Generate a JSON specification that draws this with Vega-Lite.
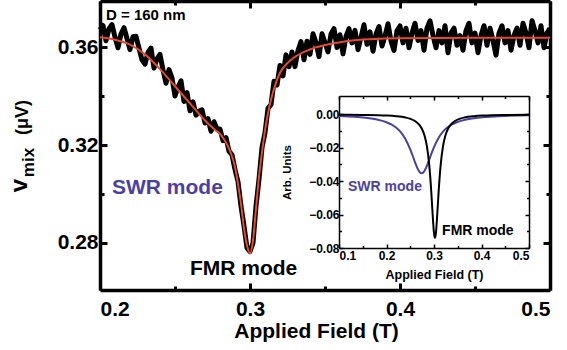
{
  "$schema": "https://vega.github.io/schema/vega-lite/v6.json",
  "width": 450,
  "height": 289,
  "autosize": "none",
  "padding": {"left": 100, "top": 1, "right": 17, "bottom": 60},
  "background": "white",
  "config": {
    "font": "Liberation Sans",
    "view": {"stroke": null},
    "axis": {"grid": false, "labelColor": "black", "tickColor": "black", "domainColor": "black", "titleColor": "black", "labelFontWeight": "bold", "titleFontWeight": "bold", "zindex": 1}
  },
  "datasets": {
    "noisy": [
      {"x":0.200,"y":0.3670},{"x":0.202,"y":0.3688},{"x":0.204,"y":0.3626},{"x":0.206,"y":0.3674},{"x":0.208,"y":0.3692},{"x":0.210,"y":0.3640},{"x":0.212,"y":0.3597},{"x":0.214,"y":0.3653},{"x":0.216,"y":0.3679},{"x":0.218,"y":0.3635},
      {"x":0.220,"y":0.3590},{"x":0.222,"y":0.3642},{"x":0.224,"y":0.3644},{"x":0.226,"y":0.3596},{"x":0.228,"y":0.3548},{"x":0.230,"y":0.3530},{"x":0.232,"y":0.3578},{"x":0.234,"y":0.3596},{"x":0.236,"y":0.3514},{"x":0.238,"y":0.3552},
      {"x":0.240,"y":0.3570},{"x":0.242,"y":0.3506},{"x":0.244,"y":0.3452},{"x":0.246,"y":0.3508},{"x":0.248,"y":0.3474},{"x":0.250,"y":0.3400},{"x":0.252,"y":0.3436},{"x":0.254,"y":0.3462},{"x":0.256,"y":0.3378},{"x":0.258,"y":0.3414},
      {"x":0.260,"y":0.3340},{"x":0.262,"y":0.3376},{"x":0.264,"y":0.3322},{"x":0.266,"y":0.3338},{"x":0.268,"y":0.3344},{"x":0.270,"y":0.3290},{"x":0.272,"y":0.3308},{"x":0.274,"y":0.3256},{"x":0.276,"y":0.3295},{"x":0.278,"y":0.3265},
      {"x":0.280,"y":0.3265},{"x":0.282,"y":0.3218},{"x":0.284,"y":0.3230},{"x":0.286,"y":0.3175},{"x":0.288,"y":0.3160},{"x":0.290,"y":0.3100},{"x":0.292,"y":0.3050},{"x":0.294,"y":0.2950},{"x":0.296,"y":0.2870},{"x":0.298,"y":0.2780},
      {"x":0.300,"y":0.2765},{"x":0.302,"y":0.2800},{"x":0.304,"y":0.2950},{"x":0.306,"y":0.3060},{"x":0.308,"y":0.3190},{"x":0.310,"y":0.3250},{"x":0.312,"y":0.3350},{"x":0.314,"y":0.3365},{"x":0.316,"y":0.3460},{"x":0.318,"y":0.3445},
      {"x":0.320,"y":0.3525},{"x":0.322,"y":0.3482},{"x":0.324,"y":0.3568},{"x":0.326,"y":0.3520},{"x":0.328,"y":0.3580},{"x":0.330,"y":0.3520},{"x":0.332,"y":0.3586},{"x":0.334,"y":0.3622},{"x":0.336,"y":0.3548},{"x":0.338,"y":0.3624},
      {"x":0.340,"y":0.3570},{"x":0.342,"y":0.3654},{"x":0.344,"y":0.3617},{"x":0.346,"y":0.3561},{"x":0.348,"y":0.3654},{"x":0.350,"y":0.3618},{"x":0.352,"y":0.3580},{"x":0.354,"y":0.3653},{"x":0.356,"y":0.3675},{"x":0.358,"y":0.3598},
      {"x":0.360,"y":0.3650},{"x":0.362,"y":0.3572},{"x":0.364,"y":0.3643},{"x":0.366,"y":0.3675},{"x":0.368,"y":0.3617},{"x":0.370,"y":0.3668},{"x":0.372,"y":0.3589},{"x":0.374,"y":0.3640},{"x":0.376,"y":0.3691},{"x":0.378,"y":0.3611},
      {"x":0.380,"y":0.3662},{"x":0.382,"y":0.3583},{"x":0.384,"y":0.3653},{"x":0.386,"y":0.3684},{"x":0.388,"y":0.3604},{"x":0.390,"y":0.3645},{"x":0.392,"y":0.3695},{"x":0.394,"y":0.3625},{"x":0.396,"y":0.3586},{"x":0.398,"y":0.3666},
      {"x":0.400,"y":0.3686},{"x":0.402,"y":0.3617},{"x":0.404,"y":0.3677},{"x":0.406,"y":0.3597},{"x":0.408,"y":0.3657},{"x":0.410,"y":0.3697},{"x":0.412,"y":0.3627},{"x":0.414,"y":0.3667},{"x":0.416,"y":0.3587},{"x":0.418,"y":0.3677},
      {"x":0.420,"y":0.3707},{"x":0.422,"y":0.3647},{"x":0.424,"y":0.3597},{"x":0.426,"y":0.3667},{"x":0.428,"y":0.3617},{"x":0.430,"y":0.3687},{"x":0.432,"y":0.3577},{"x":0.434,"y":0.3657},{"x":0.436,"y":0.3677},{"x":0.438,"y":0.3607},
      {"x":0.440,"y":0.3647},{"x":0.442,"y":0.3587},{"x":0.444,"y":0.3667},{"x":0.446,"y":0.3697},{"x":0.448,"y":0.3617},{"x":0.450,"y":0.3657},{"x":0.452,"y":0.3577},{"x":0.454,"y":0.3647},{"x":0.456,"y":0.3687},{"x":0.458,"y":0.3607},
      {"x":0.460,"y":0.3677},{"x":0.462,"y":0.3627},{"x":0.464,"y":0.3567},{"x":0.466,"y":0.3657},{"x":0.468,"y":0.3687},{"x":0.470,"y":0.3617},{"x":0.472,"y":0.3667},{"x":0.474,"y":0.3587},{"x":0.476,"y":0.3647},{"x":0.478,"y":0.3677},
      {"x":0.480,"y":0.3607},{"x":0.482,"y":0.3697},{"x":0.484,"y":0.3657},{"x":0.486,"y":0.3597},{"x":0.488,"y":0.3707},{"x":0.490,"y":0.3667},{"x":0.492,"y":0.3617},{"x":0.494,"y":0.3687},{"x":0.496,"y":0.3597},{"x":0.498,"y":0.3657},
      {"x":0.500,"y":0.3677}
    ],
    "fit": [
      {"x":0.200,"y":0.3640},{"x":0.210,"y":0.3630},{"x":0.220,"y":0.3610},{"x":0.230,"y":0.3570},{"x":0.240,"y":0.3510},{"x":0.250,"y":0.3440},{"x":0.260,"y":0.3370},{"x":0.270,"y":0.3300},{"x":0.276,"y":0.3265},{"x":0.280,"y":0.3245},
      {"x":0.284,"y":0.3210},{"x":0.287,"y":0.3170},{"x":0.290,"y":0.3110},{"x":0.292,"y":0.3040},{"x":0.294,"y":0.2960},{"x":0.296,"y":0.2860},{"x":0.298,"y":0.2790},{"x":0.300,"y":0.2758},{"x":0.302,"y":0.2810},{"x":0.304,"y":0.2940},
      {"x":0.306,"y":0.3070},{"x":0.308,"y":0.3170},{"x":0.310,"y":0.3260},{"x":0.312,"y":0.3330},{"x":0.314,"y":0.3385},{"x":0.316,"y":0.3430},{"x":0.320,"y":0.3495},{"x":0.325,"y":0.3535},{"x":0.330,"y":0.3560},{"x":0.340,"y":0.3590},
      {"x":0.350,"y":0.3608},{"x":0.360,"y":0.3620},{"x":0.370,"y":0.3628},{"x":0.380,"y":0.3632},{"x":0.400,"y":0.3636},{"x":0.450,"y":0.3638},{"x":0.500,"y":0.3638}
    ],
    "fmr": [
      {"x":0.100,"y":-0.00018},{"x":0.150,"y":-0.00032},{"x":0.200,"y":-0.00070},{"x":0.220,"y":-0.00109},{"x":0.240,"y":-0.00188},{"x":0.250,"y":-0.00264},{"x":0.260,"y":-0.00398},{"x":0.270,"y":-0.00658},{"x":0.275,"y":-0.00893},{"x":0.280,"y":-0.01267},
      {"x":0.285,"y":-0.01902},{"x":0.290,"y":-0.03033},{"x":0.294,"y":-0.04512},{"x":0.297,"y":-0.05920},{"x":0.300,"y":-0.07115},{"x":0.302,"y":-0.07400},{"x":0.304,"y":-0.07115},{"x":0.307,"y":-0.05920},{"x":0.310,"y":-0.04512},{"x":0.314,"y":-0.03033},
      {"x":0.319,"y":-0.01902},{"x":0.324,"y":-0.01267},{"x":0.329,"y":-0.00893},{"x":0.334,"y":-0.00658},{"x":0.344,"y":-0.00398},{"x":0.354,"y":-0.00264},{"x":0.364,"y":-0.00188},{"x":0.384,"y":-0.00109},{"x":0.404,"y":-0.00070},{"x":0.454,"y":-0.00032},{"x":0.500,"y":-0.00019}
    ],
    "swr": [
      {"x":0.100,"y":-0.00095},{"x":0.120,"y":-0.00121},{"x":0.140,"y":-0.00158},{"x":0.160,"y":-0.00215},{"x":0.180,"y":-0.00307},{"x":0.200,"y":-0.00470},{"x":0.210,"y":-0.00601},{"x":0.220,"y":-0.00790},{"x":0.230,"y":-0.01069},{"x":0.240,"y":-0.01487},
      {"x":0.250,"y":-0.02095},{"x":0.260,"y":-0.02863},{"x":0.265,"y":-0.03220},{"x":0.270,"y":-0.03464},{"x":0.274,"y":-0.03530},{"x":0.278,"y":-0.03464},{"x":0.283,"y":-0.03220},{"x":0.288,"y":-0.02863},{"x":0.298,"y":-0.02095},{"x":0.308,"y":-0.01487},
      {"x":0.318,"y":-0.01069},{"x":0.328,"y":-0.00790},{"x":0.338,"y":-0.00601},{"x":0.348,"y":-0.00470},{"x":0.368,"y":-0.00307},{"x":0.388,"y":-0.00215},{"x":0.408,"y":-0.00158},{"x":0.428,"y":-0.00121},{"x":0.448,"y":-0.00095},{"x":0.500,"y":-0.00057}
    ],
    "mainDummy": [{"x":0.3,"y":0.3}],
    "insetDummy": [{"x":0.3,"y":-0.04}],
    "mainD": [{"x":0.204,"y":0.3731,"label":"D = 160 nm"}],
    "mainSWR": [{"x":0.208,"y":0.3025,"label":"SWR mode"}],
    "mainFMR": [{"x":0.2957,"y":0.2694,"label":"FMR mode"}],
    "insetSWR": [{"x":0.119,"y":-0.0435,"label":"SWR mode"}],
    "insetFMR": [{"x":0.317,"y":-0.0698,"label":"FMR mode"}]
  },
  "layer": [
    {
      "layer": [
        {
          "data": {"name": "noisy"},
          "mark": {"type": "line", "color": "black", "strokeWidth": 5, "strokeJoin": "round"},
          "encoding": {
            "x": {"field": "x", "type": "quantitative", "scale": {"domain": [0.2, 0.5], "nice": false, "zero": false},
              "axis": {"orient": "bottom", "values": [0.2, 0.3, 0.4, 0.5], "format": ".1f", "labelFontSize": 21, "labelPadding": 15, "tickSize": -7, "tickWidth": 3, "domainWidth": 3.5, "title": "Applied Field (T)", "titleFontSize": 21, "titlePadding": 1, "titleX": 216}},
            "y": {"field": "y", "type": "quantitative", "scale": {"domain": [0.2608, 0.3788], "nice": false, "zero": false},
              "axis": {"orient": "left", "values": [0.28, 0.32, 0.36], "format": ".2f", "labelFontSize": 21, "labelPadding": 9, "tickSize": -7, "tickWidth": 3, "domainWidth": 3.5, "title": "v", "titleFontSize": 24, "titleX": -74, "titleY": 184, "titleAngle": -90, "titleAlign": "center", "titleBaseline": "alphabetic"}}
          }
        },
        {
          "data": {"name": "fit"},
          "mark": {"type": "line", "color": "#E8482C", "strokeWidth": 2, "interpolate": "monotone"},
          "encoding": {
            "x": {"field": "x", "type": "quantitative", "axis": null},
            "y": {"field": "y", "type": "quantitative", "axis": null}
          }
        },
        {
          "data": {"name": "mainDummy"},
          "mark": {"type": "point", "opacity": 0},
          "encoding": {
            "x": {"field": "x", "type": "quantitative", "axis": {"orient": "bottom", "values": [0.25, 0.35, 0.45], "labels": false, "domain": false, "tickSize": -4, "tickWidth": 3, "title": null}},
            "y": {"field": "y", "type": "quantitative", "axis": {"orient": "left", "values": [0.30, 0.34], "labels": false, "domain": false, "tickSize": -4, "tickWidth": 3, "title": "mix", "titleFontSize": 17, "titleX": -67, "titleY": 161, "titleAngle": -90, "titleAlign": "center", "titleBaseline": "alphabetic"}}
          }
        },
        {
          "data": {"name": "mainDummy"},
          "mark": {"type": "point", "opacity": 0},
          "encoding": {
            "x": {"field": "x", "type": "quantitative", "axis": {"orient": "top", "values": [0.2, 0.3, 0.4, 0.5], "labels": false, "domainWidth": 3.5, "tickSize": -7, "tickWidth": 3, "title": null}},
            "y": {"field": "y", "type": "quantitative", "axis": {"orient": "right", "values": [0.28, 0.32, 0.36], "labels": false, "domainWidth": 3.5, "tickSize": -7, "tickWidth": 3, "title": null}}
          }
        },
        {
          "data": {"name": "mainDummy"},
          "mark": {"type": "point", "opacity": 0},
          "encoding": {
            "x": {"field": "x", "type": "quantitative", "axis": {"orient": "top", "values": [0.25, 0.35, 0.45], "labels": false, "domain": false, "tickSize": -4, "tickWidth": 3, "title": null}},
            "y": {"field": "y", "type": "quantitative", "axis": {"orient": "right", "values": [0.30, 0.34], "labels": false, "domain": false, "tickSize": -4, "tickWidth": 3, "title": null}}
          }
        },
        {
          "data": {"name": "mainDummy"},
          "mark": {"type": "point", "opacity": 0},
          "encoding": {
            "y": {"field": "y", "type": "quantitative", "axis": {"orient": "left", "values": [], "labels": false, "domain": false, "ticks": false, "title": "(μV)", "titleFontSize": 18, "titleX": -73, "titleY": 116, "titleAngle": -90, "titleAlign": "center", "titleBaseline": "alphabetic"}}
          }
        },
        {
          "data": {"name": "mainD"},
          "mark": {"type": "text", "font": "Liberation Sans", "fontWeight": "bold", "fontSize": 15, "align": "left", "baseline": "middle", "color": "black"},
          "encoding": {
            "x": {"field": "x", "type": "quantitative", "axis": null},
            "y": {"field": "y", "type": "quantitative", "axis": null},
            "text": {"field": "label"}
          }
        },
        {
          "data": {"name": "mainSWR"},
          "mark": {"type": "text", "font": "Liberation Sans", "fontWeight": "bold", "fontSize": 21, "align": "left", "baseline": "middle", "color": "#4B3FA6"},
          "encoding": {
            "x": {"field": "x", "type": "quantitative", "axis": null},
            "y": {"field": "y", "type": "quantitative", "axis": null},
            "text": {"field": "label"}
          }
        },
        {
          "data": {"name": "mainFMR"},
          "mark": {"type": "text", "font": "Liberation Sans", "fontWeight": "bold", "fontSize": 21, "align": "center", "baseline": "middle", "color": "black"},
          "encoding": {
            "x": {"field": "x", "type": "quantitative", "axis": null},
            "y": {"field": "y", "type": "quantitative", "axis": null},
            "text": {"field": "label"}
          }
        }
      ],
      "resolve": {"axis": {"x": "independent", "y": "independent"}}
    },
    {
      "layer": [
        {
          "data": {"name": "swr"},
          "mark": {"type": "line", "color": "#4B3FA6", "strokeWidth": 2, "interpolate": "monotone"},
          "encoding": {
            "x": {"field": "x", "type": "quantitative", "scale": {"domain": [0.1, 0.5], "range": [239, 429], "nice": false, "zero": false},
              "axis": {"orient": "bottom", "offset": -42, "values": [0.1, 0.2, 0.3, 0.4, 0.5], "format": ".1f", "labelFontSize": 12, "labelPadding": 6, "tickSize": -4, "tickWidth": 1.5, "domainWidth": 1.5, "title": "Applied Field (T)", "titleFontSize": 12.5, "titlePadding": 7}},
            "y": {"field": "y", "type": "quantitative", "scale": {"domain": [-0.08, 0.011], "range": [247, 95], "nice": false, "zero": false},
              "axis": {"orient": "left", "offset": -239, "values": [0, -0.02, -0.04, -0.06, -0.08], "format": ".2f", "labelFontSize": 12, "labelPadding": 4, "tickSize": -4, "tickWidth": 1.5, "domainWidth": 1.5, "title": "Arb. Units", "titleFontSize": 11.5, "titlePadding": 16}}
          }
        },
        {
          "data": {"name": "fmr"},
          "mark": {"type": "line", "color": "black", "strokeWidth": 2, "interpolate": "monotone"},
          "encoding": {
            "x": {"field": "x", "type": "quantitative", "axis": null},
            "y": {"field": "y", "type": "quantitative", "axis": null}
          }
        },
        {
          "data": {"name": "insetDummy"},
          "mark": {"type": "point", "opacity": 0},
          "encoding": {
            "x": {"field": "x", "type": "quantitative", "axis": {"orient": "bottom", "offset": -42, "values": [0.15, 0.25, 0.35, 0.45], "labels": false, "domain": false, "tickSize": -2.5, "tickWidth": 1.5, "title": null}},
            "y": {"field": "y", "type": "quantitative", "axis": {"orient": "left", "offset": -239, "values": [-0.01, -0.03, -0.05, -0.07], "labels": false, "domain": false, "tickSize": -2.5, "tickWidth": 1.5, "title": null}}
          }
        },
        {
          "data": {"name": "insetDummy"},
          "mark": {"type": "point", "opacity": 0},
          "encoding": {
            "x": {"field": "x", "type": "quantitative", "axis": {"orient": "top", "offset": -95, "values": [0.1, 0.2, 0.3, 0.4, 0.5], "labels": false, "domainWidth": 1.5, "tickSize": -4, "tickWidth": 1.5, "title": null}},
            "y": {"field": "y", "type": "quantitative", "axis": {"orient": "right", "offset": -21, "values": [0, -0.02, -0.04, -0.06, -0.08], "labels": false, "domainWidth": 1.5, "tickSize": -4, "tickWidth": 1.5, "title": null}}
          }
        },
        {
          "data": {"name": "insetDummy"},
          "mark": {"type": "point", "opacity": 0},
          "encoding": {
            "x": {"field": "x", "type": "quantitative", "axis": {"orient": "top", "offset": -95, "values": [0.15, 0.25, 0.35, 0.45], "labels": false, "domain": false, "tickSize": -2.5, "tickWidth": 1.5, "title": null}},
            "y": {"field": "y", "type": "quantitative", "axis": {"orient": "right", "offset": -21, "values": [-0.01, -0.03, -0.05, -0.07], "labels": false, "domain": false, "tickSize": -2.5, "tickWidth": 1.5, "title": null}}
          }
        },
        {
          "data": {"name": "insetSWR"},
          "mark": {"type": "text", "font": "Liberation Sans", "fontWeight": "bold", "fontSize": 14, "align": "left", "baseline": "middle", "color": "#4B3FA6"},
          "encoding": {
            "x": {"field": "x", "type": "quantitative", "axis": null},
            "y": {"field": "y", "type": "quantitative", "axis": null},
            "text": {"field": "label"}
          }
        },
        {
          "data": {"name": "insetFMR"},
          "mark": {"type": "text", "font": "Liberation Sans", "fontWeight": "bold", "fontSize": 14, "align": "left", "baseline": "middle", "color": "black"},
          "encoding": {
            "x": {"field": "x", "type": "quantitative", "axis": null},
            "y": {"field": "y", "type": "quantitative", "axis": null},
            "text": {"field": "label"}
          }
        }
      ],
      "resolve": {"axis": {"x": "independent", "y": "independent"}}
    }
  ],
  "resolve": {"scale": {"x": "independent", "y": "independent"}, "axis": {"x": "independent", "y": "independent"}}
}
